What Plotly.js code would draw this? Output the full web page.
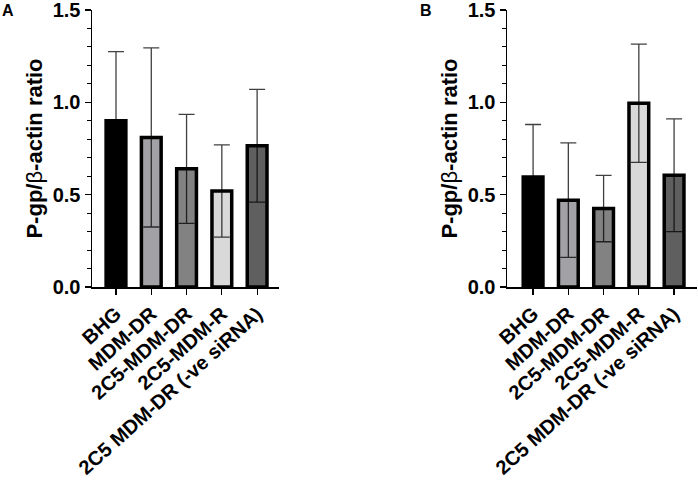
<!DOCTYPE html>
<html>
<head>
<meta charset="utf-8">
<script src="https://cdn.plot.ly/plotly-3.0.1.min.js"></script>
<style>
  html, body { margin: 0; padding: 0; background: #fff; }
  #chart { width: 698px; height: 493px; }
</style>
</head>
<body>
<div id="chart"></div>
<script>
const categories = ["BHG", "MDM-DR", "2C5-MDM-DR", "2C5-MDM-R", "2C5 MDM-DR (-ve siRNA)"];
const barColors = ["#000000", "#a2a2a6", "#828282", "#d9d9d9", "#5f5f5f"];

// panel A
const ratioA = [0.90, 0.81, 0.64, 0.52, 0.765];
const errA = [0.375, 0.485, 0.295, 0.25, 0.305];

// panel B
const ratioB = [0.595, 0.47, 0.425, 0.995, 0.605];
const errB = [0.285, 0.31, 0.18, 0.32, 0.305];

const yTickVals = [0, 0.5, 1.0, 1.5];
const yTickText = ["0.0", "0.5", "1.0", "1.5"];

const FONT = "Arial, 'Liberation Sans', Helvetica, sans-serif";

const makeBars = (values, errors, xa, ya) => ({
  x: categories,
  y: values,
  type: "bar",
  xaxis: xa,
  yaxis: ya,
  width: 0.56,
  marker: {
    color: barColors,
    line: { color: "#000000", width: 3.5 }
  },
  error_y: {
    type: "data",
    array: errors,
    visible: true,
    color: "rgba(0,0,0,0.75)",
    thickness: 1.3,
    width: 8
  },
  hoverinfo: "skip"
});

const xAxisStyle = (domain, range, anchor) => ({
  domain: domain,
  range: range,
  anchor: anchor,
  type: "category",
  showgrid: false,
  zeroline: false,
  showline: true,
  linecolor: "#000",
  linewidth: 1.5,
  ticks: "outside",
  ticklen: 6,
  tickwidth: 1.2,
  tickcolor: "#000",
  tickangle: -42,
  tickfont: { family: FONT, size: 20, color: "#000", weight: "bold" }
});

const yAxisStyle = (domain, anchor) => ({
  domain: domain,
  anchor: anchor,
  range: [0, 1.5],
  tickmode: "array",
  tickvals: yTickVals,
  ticktext: yTickText,
  ticklabeloverflow: "allow",
  showgrid: false,
  zeroline: false,
  showline: true,
  linecolor: "#000",
  linewidth: 1.5,
  ticks: "outside",
  ticklen: 6,
  tickwidth: 1.2,
  tickcolor: "#000",
  minor: { dtick: 0.1, ticks: "outside", ticklen: 4, tickwidth: 1, tickcolor: "#000", showgrid: false },
  tickfont: { family: FONT, size: 20, color: "#000", weight: "bold" },
  title: {
    text: "P-gp/<span style='font-weight:normal'>β</span>-actin ratio",
    font: { family: FONT, size: 22, color: "#000", weight: "bold" },
    standoff: 4
  }
});

const data = [
  makeBars(ratioA, errA, "x", "y"),
  makeBars(ratioB, errB, "x2", "y2")
];

const W = 698, H = 493;
const yDom = [1 - 287 / H, 1 - 10 / H];

const layout = {
  width: W,
  height: H,
  margin: { l: 0, r: 0, t: 0, b: 0 },
  paper_bgcolor: "#ffffff",
  plot_bgcolor: "#ffffff",
  showlegend: false,
  xaxis: xAxisStyle([92 / W, 279 / W], [-0.68, 4.62], "y"),
  yaxis: yAxisStyle(yDom, "x"),
  xaxis2: xAxisStyle([507 / W, 697 / W], [-0.74, 4.65], "y2"),
  yaxis2: yAxisStyle(yDom, "x2"),
  annotations: [
    { text: "A", xref: "paper", yref: "paper", x: 8 / W, y: 1 - 10 / H, showarrow: false,
      xanchor: "center", yanchor: "middle", font: { family: FONT, size: 16, color: "#000", weight: "bold" } },
    { text: "B", xref: "paper", yref: "paper", x: 426 / W, y: 1 - 10 / H, showarrow: false,
      xanchor: "center", yanchor: "middle", font: { family: FONT, size: 16, color: "#000", weight: "bold" } }
  ]
};

Plotly.newPlot("chart", data, layout, { displayModeBar: false, staticPlot: true });
</script>
</body>
</html>
